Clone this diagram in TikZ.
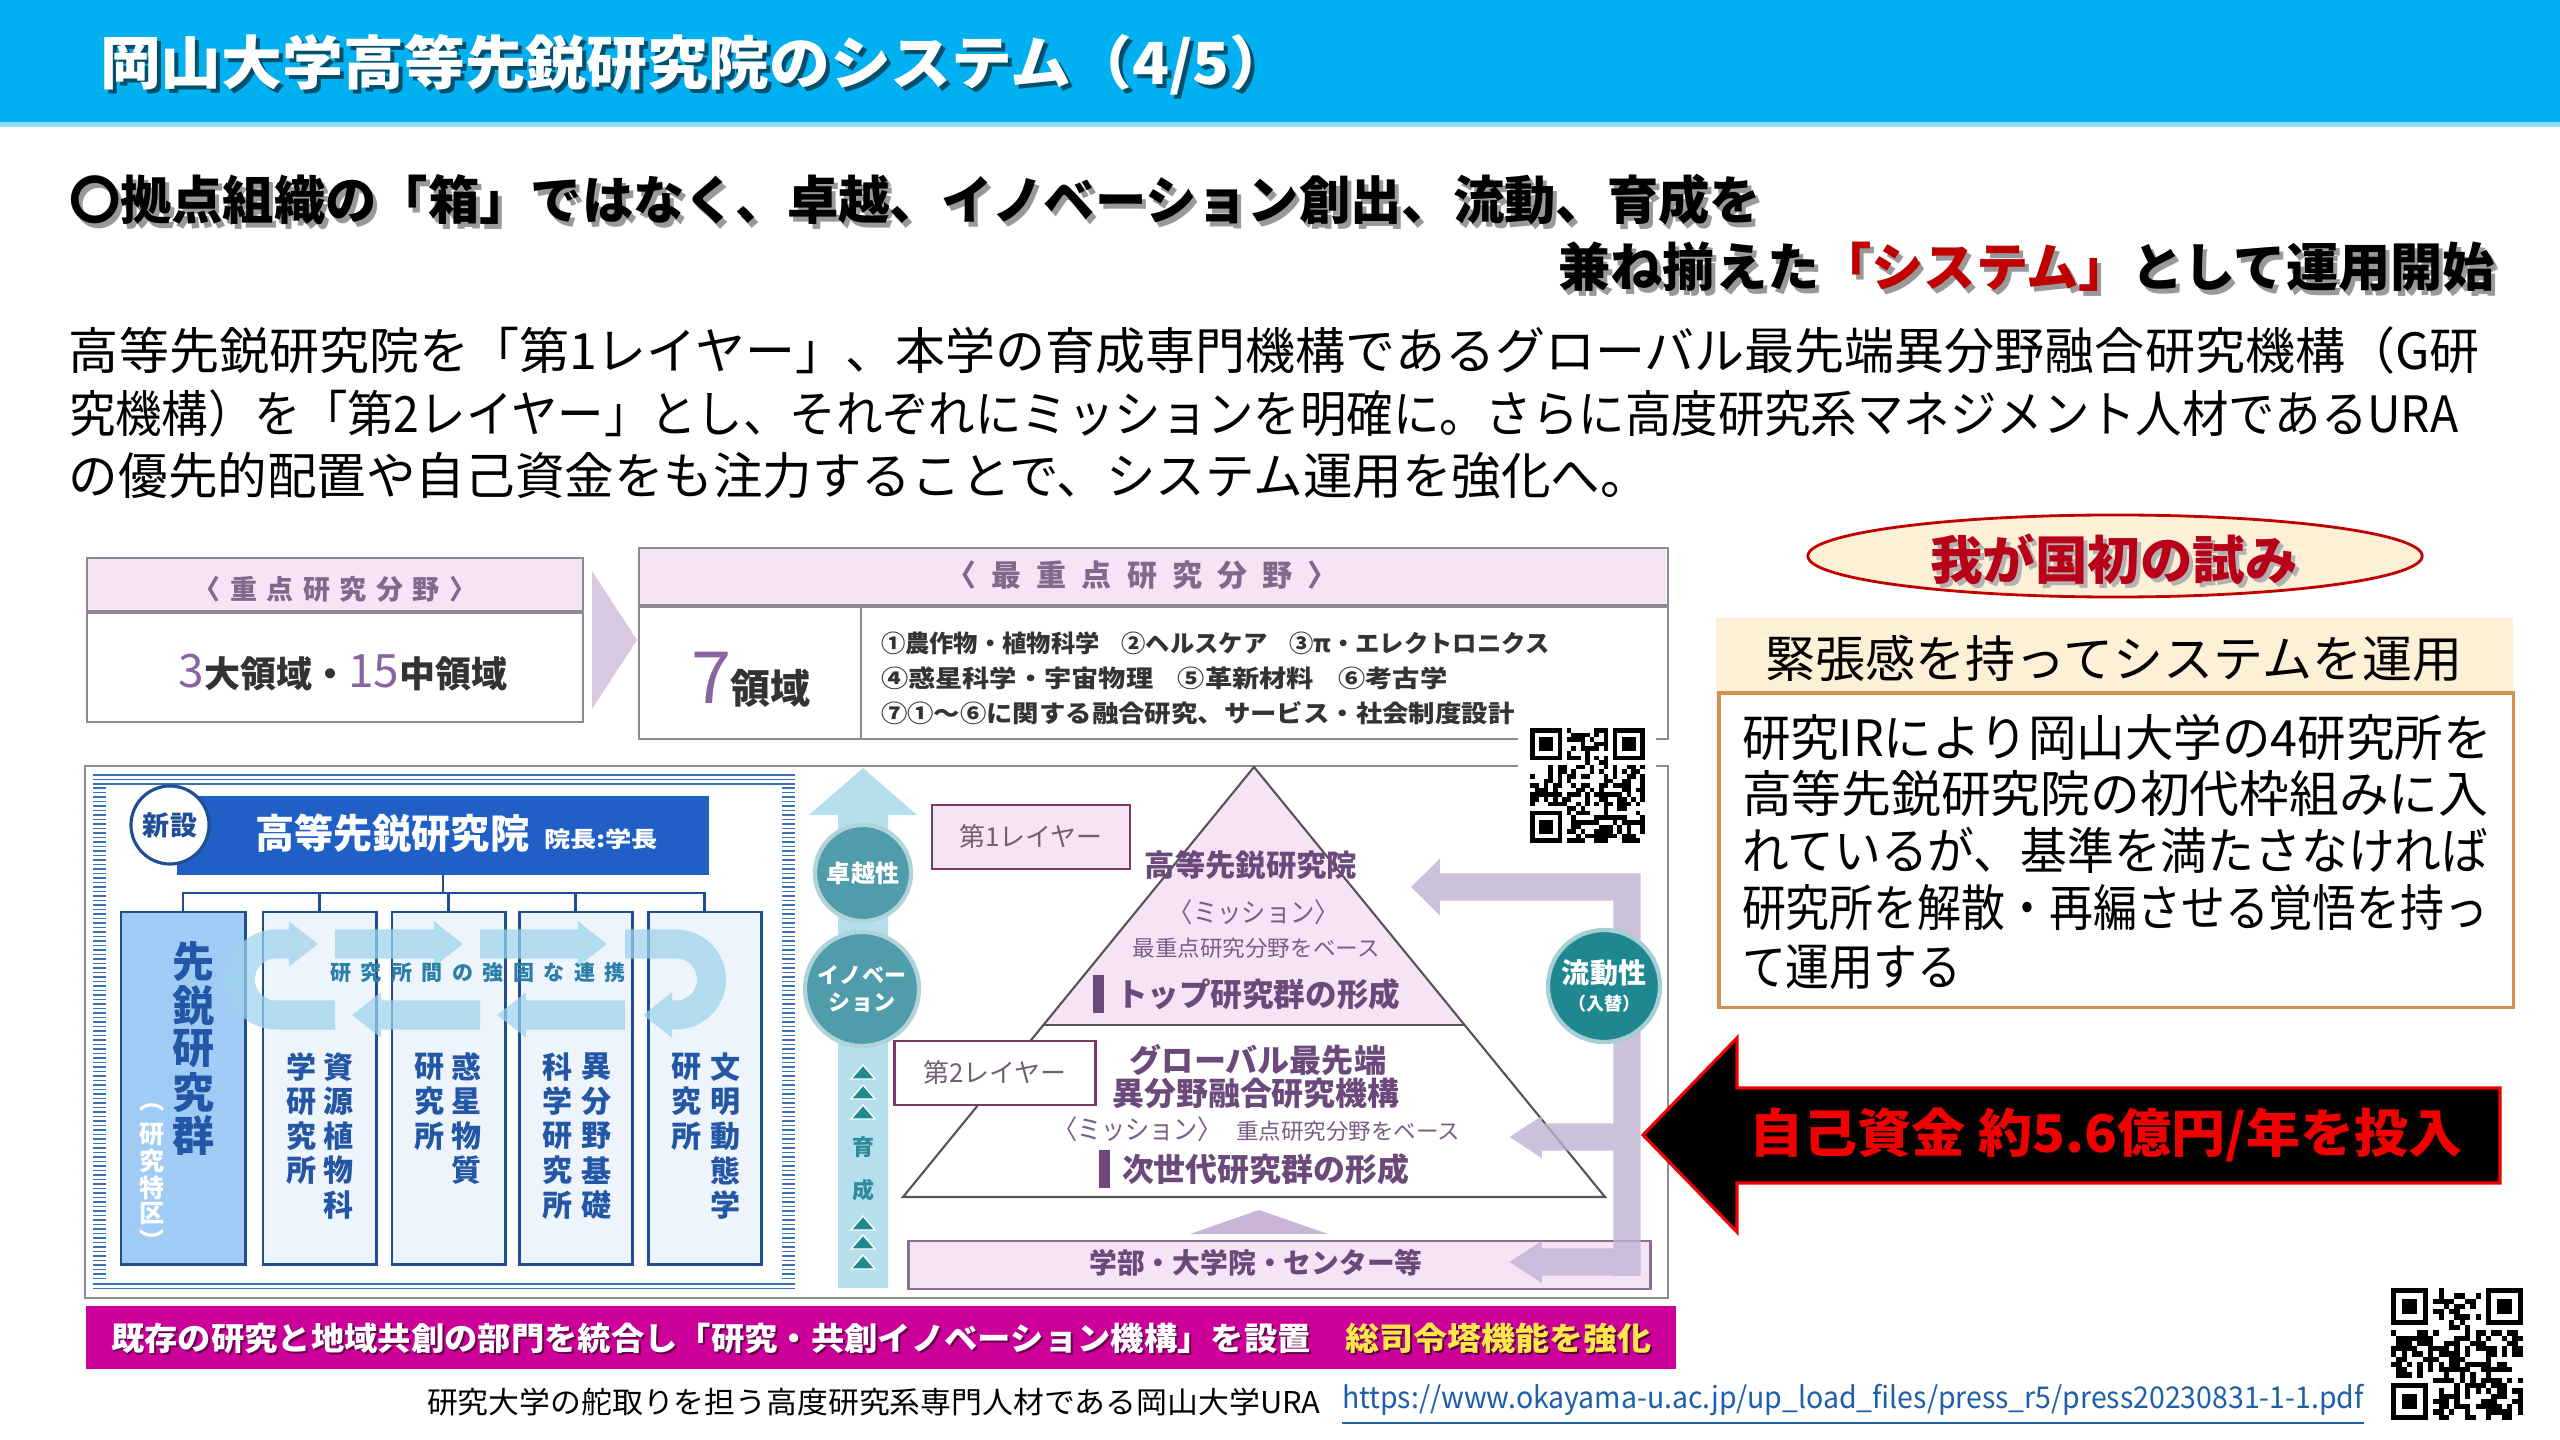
\documentclass[tikz,border=0pt]{standalone}
\usepackage{fontspec}
\usepackage{xfp}
\usepackage{graphicx}
\setmainfont{Noto Sans CJK JP}
\usetikzlibrary{arrows.meta,shapes.geometric,calc}

\definecolor{tcyan}{HTML}{00B0F0}
\definecolor{tcyanl}{HTML}{8FDDF7}
\definecolor{hdrblue}{HTML}{1F5FC6}
\definecolor{dblue}{HTML}{1F4E96}
\definecolor{tblue}{HTML}{2456A6}
\definecolor{c1fill}{HTML}{9FCBF5}
\definecolor{cfill}{HTML}{EEF4FB}
\definecolor{stripe}{HTML}{3A70B8}
\definecolor{pinkf}{HTML}{F6E4F6}
\definecolor{gborder}{HTML}{8E8A94}
\definecolor{ptext}{HTML}{6B4A7B}
\definecolor{ptextl}{HTML}{7A5C88}
\definecolor{ptextg}{HTML}{7E6A8C}
\definecolor{numc}{HTML}{8A64A0}
\definecolor{darktxt}{HTML}{333333}
\definecolor{chevc}{HTML}{D8C8E2}
\definecolor{lboxb}{HTML}{7B3A66}
\definecolor{layertxt}{HTML}{6E6070}
\definecolor{tealc}{HTML}{4F9CAA}
\definecolor{teald}{HTML}{1E8790}
\definecolor{tealtri}{HTML}{1F8A8C}
\definecolor{tealtxt}{HTML}{2E8B9A}
\definecolor{lbluearrow}{HTML}{B5DFEC}
\definecolor{loopblue}{HTML}{9CD2EC}
\definecolor{looptxt}{HTML}{2B7FA8}
\definecolor{lpurple}{HTML}{BFB2D3}
\definecolor{smalltri}{HTML}{C9B5D8}
\definecolor{pyrline}{HTML}{555555}
\definecolor{magbar}{HTML}{CC0099}
\definecolor{yel}{HTML}{FFE64D}
\definecolor{cream}{HTML}{FDF0D6}
\definecolor{orangeb}{HTML}{D4914B}
\definecolor{dred}{HTML}{B80018}
\definecolor{hred}{HTML}{C00000}
\definecolor{bred}{HTML}{F00000}
\definecolor{urlblue}{HTML}{1F5FA8}

\newcommand\pxs[1]{\fontsize{\fpeval{#1*0.2845}pt}{\fpeval{#1*0.2845*1.2}pt}\selectfont}
\newcommand\fitw[2]{\resizebox{#1}{\height}{#2}}
\newcommand\vcol[5]{%
  \foreach \ch [count=\k from 0] in {#4}{\node[tx] (#5\k) at (#1,#2+\k*#3) {\ch};}}
\newcommand\fakeqr[4]{%
  \pgfmathsetseed{#4}%
  \foreach \qi in {0,...,24}{%
    \foreach \qj in {0,...,24}{%
      \pgfmathtruncatemacro\qon{((\qi<8 && \qj<8) || (\qi>16 && \qj<8) || (\qi<8 && \qj>16)) ? 0 : (rnd<0.5 ? 1 : 0)}%
      \ifnum\qon=1 \fill (#1+\qi*#3,#2+\qj*#3) rectangle ++(#3,#3);\fi
    }}%
  \foreach \fx/\fy in {0/0,18/0,0/18}{%
    \fill (#1+\fx*#3,#2+\fy*#3) rectangle ++(7*#3,7*#3);
    \fill[white] (#1+\fx*#3+#3,#2+\fy*#3+#3) rectangle ++(5*#3,5*#3);
    \fill (#1+\fx*#3+2*#3,#2+\fy*#3+2*#3) rectangle ++(3*#3,3*#3);
  }}

\begin{document}
\begin{tikzpicture}[x=0.01cm,y=-0.01cm,
  tx/.style={inner sep=0pt,outer sep=0pt},
  tri/.style={-{Triangle[length=0pt 1.0,width=0pt 1.5]}},
  colbox/.style={tx,draw=dblue,line width=0.85pt,fill=cfill,minimum width=1.13cm,minimum height=3.52cm,anchor=north west},
  grayline/.style={gborder,line width=0.6pt}]

\fill[white] (0,0) rectangle (2560,1440);
\useasboundingbox (0,0) rectangle (2560,1440);

% ---------- title bar
\fill[tcyan] (0,0) rectangle (2560,122);
\fill[tcyanl] (0,122) rectangle (2560,127);
\node[tx,anchor=west,text=black!55!tcyan] (titlesh) at (104,69) {\pxs{58}\bfseries\fitw{11.9cm}{岡山大学高等先鋭研究院のシステム（4/5）}};
\node[tx,anchor=west,text=white] (title) at (100,65) {\pxs{58}\bfseries\fitw{11.9cm}{岡山大学高等先鋭研究院のシステム（4/5）}};

% ---------- heading
\node[tx,anchor=west,text=black!40] (h1sh) at (73,205) {\pxs{52}\bfseries\fitw{16.91cm}{〇拠点組織の「箱」ではなく、卓越、イノベーション創出、流動、育成を}};
\node[tx,anchor=west] (h1) at (69,200) {\pxs{52}\bfseries\fitw{16.91cm}{〇拠点組織の「箱」ではなく、卓越、イノベーション創出、流動、育成を}};
\node[tx,anchor=east,text=black!40] (h2sh) at (2499,272) {\pxs{52}\bfseries\fitw{9.36cm}{兼ね揃えた「システム」として運用開始}};
\node[tx,anchor=east] (h2) at (2495,267) {\pxs{52}\bfseries\fitw{9.36cm}{兼ね揃えた{\color{hred}「システム」}として運用開始}};

% ---------- body
\node[tx,anchor=west] (b1) at (69,350) {\pxs{50}\fitw{24.09cm}{高等先鋭研究院を「第1レイヤー」、本学の育成専門機構であるグローバル最先端異分野融合研究機構（G研}};
\node[tx,anchor=west] (b2) at (69,413) {\pxs{50}\fitw{23.88cm}{究機構）を「第2レイヤー」とし、それぞれにミッションを明確に。さらに高度研究系マネジメント人材であるURA}};
\node[tx,anchor=west] (b3) at (69,476) {\pxs{50}\fitw{15.80cm}{の優先的配置や自己資金をも注力することで、システム運用を強化へ。}};

% ---------- top-left box
\node[tx,draw=gborder,line width=0.6pt,fill=white,minimum width=4.96cm,minimum height=1.64cm,anchor=north west] (boxL) at (87,558) {};
\fill[pinkf] (88,559) rectangle (582,612);
\draw[gborder,line width=0.9pt] (87,612) -- (583,612);
\node[tx,text=ptextg] (boxLh) at (335,589) {\pxs{27}\bfseries\addfontfeature{LetterSpace=35}〈重点研究分野〉};
\node[tx] (boxLt) at (343,673) {\pxs{36}\bfseries\color{darktxt}{\pxs{46}\mdseries\color{numc}3}大領域・{\pxs{46}\mdseries\color{numc}15}中領域};

\fill[chevc] (592,571) -- (637,640) -- (592,709) -- cycle;

% ---------- top-right box
\node[tx,draw=gborder,line width=0.6pt,fill=white,minimum width=10.28cm,minimum height=1.91cm,anchor=north west] (boxR) at (639,548) {};
\fill[pinkf] (640,549) rectangle (1666,606);
\draw[gborder,line width=0.9pt] (639,606) -- (1667,606);
\draw[grayline] (861,606) -- (861,739);
\node[tx,text=ptextg] (boxRh) at (1142,575) {\pxs{30}\bfseries\addfontfeature{LetterSpace=50}〈最重点研究分野〉};
\node[tx] (seven) at (751,680) {{\pxs{72}\color{numc}7}{\pxs{40}\bfseries\color{darktxt}領域}};
\node[tx,anchor=west,text=darktxt] (it1) at (881,643) {\pxs{24}\bfseries\fitw{6.68cm}{①農作物・植物科学\hspace{0.9em}②ヘルスケア\hspace{0.9em}③π・エレクトロニクス}};
\node[tx,anchor=west,text=darktxt] (it2) at (881,678) {\pxs{24}\bfseries\fitw{5.66cm}{④惑星科学・宇宙物理\hspace{0.9em}⑤革新材料\hspace{0.9em}⑥考古学}};
\node[tx,anchor=west,text=darktxt] (it3) at (881,713) {\pxs{24}\bfseries\fitw{6.33cm}{⑦①～⑥に関する融合研究、サービス・社会制度設計}};

% ---------- big box
\node[tx,draw=gborder,line width=0.6pt,fill=white,minimum width=15.82cm,minimum height=5.32cm,anchor=north west] (bigbox) at (85,766) {};

% blue striped frame
\foreach \yy in {775,779.5,784} \draw[stripe,line width=0.55pt] (93,\yy) -- (795,\yy);
\foreach \yy in {1284,1288.5} \draw[stripe,line width=0.55pt] (93,\yy) -- (795,\yy);
\foreach \yy in {788,792.5,...,1282} {\draw[stripe,line width=0.55pt] (93,\yy) -- (106,\yy); \draw[stripe,line width=0.55pt] (782,\yy) -- (795,\yy);}
\fill[white,rounded corners=0.2cm] (106,787) rectangle (782,1281);

% header bar
\node[tx,fill=hdrblue,minimum width=5.32cm,minimum height=0.79cm,anchor=north west] (hdr) at (177,796) {};
\node[tx,anchor=west,text=white] (hdrt) at (255,833) {\pxs{40}\bfseries\fitw{2.74cm}{高等先鋭研究院}};
\node[tx,anchor=west,text=white] (hdrs) at (544,839) {\pxs{22}\bfseries\fitw{1.14cm}{院長:学長}};
\node[tx,circle,draw=dblue,line width=0.9pt,fill=white,minimum size=0.78cm] (shinsetsu) at (170,825) {\pxs{27}\bfseries\color{dblue}新設};

% columns
\node[colbox,fill=c1fill,minimum width=1.24cm] (c1) at (121,912) {};
\node[colbox] (c2) at (263,912) {};
\node[colbox] (c3) at (392,912) {};
\node[colbox] (c4) at (519,912) {};
\node[colbox] (c5) at (648,912) {};
\draw[dblue,line width=0.7pt] (c1.north) -- ++(0,-19) -| (c5.north);
\draw[dblue,line width=0.7pt] (hdr.south) -- ++(0,19);
\foreach \c in {c2,c3,c4} \draw[dblue,line width=0.7pt] (\c.north) -- ++(0,-19);

\begin{scope}[font=\pxs{42}\bfseries, text=tblue]
\vcol{194}{962}{43.5}{先,鋭,研,究,群}{va}
\end{scope}
\begin{scope}[font=\pxs{25}\bfseries, text=white]
\vcol{152}{1108}{26.5}{︵,研,究,特,区,︶}{vb}
\end{scope}
\begin{scope}[font=\pxs{30}\bfseries, text=tblue]
\vcol{302}{1067}{34.5}{学,研,究,所}{vc}
\vcol{339}{1067}{34.5}{資,源,植,物,科}{vd}
\vcol{430}{1067}{34.5}{研,究,所}{ve}
\vcol{467}{1067}{34.5}{惑,星,物,質}{vf}
\vcol{558}{1067}{34.5}{科,学,研,究,所}{vg}
\vcol{596}{1067}{34.5}{異,分,野,基,礎}{vh}
\vcol{687}{1067}{34.5}{研,究,所}{vi}
\vcol{725}{1067}{34.5}{文,明,動,態,学}{vj}
\end{scope}

% loop arrows
\begin{scope}[transparency group,opacity=0.72]
\begin{scope}[loopblue,line width=8.25pt]
\draw[tri] (335,1015) -- (276,1015) arc[start angle=90,end angle=270,radius=35.5] -- (318,944);
\draw[tri] (335,944) -- (463,944);
\draw[tri] (480,944) -- (607,944);
\draw[tri] (625,944) -- (676,944) arc[start angle=-90,end angle=90,radius=35.5] -- (643,1015);
\draw[tri] (625,1015) -- (497,1015);
\draw[tri] (480,1015) -- (352,1015);
\end{scope}
\end{scope}
\node[tx,text=looptxt] (loopt) at (478,973) {\pxs{21}\bfseries\addfontfeature{LetterSpace=45}研究所間の強固な連携};

% ---------- middle vertical arrow
\fill[lbluearrow] (838,1288) -- (838,815) -- (809,815) -- (863,768) -- (917,815) -- (888,815) -- (888,1288) -- cycle;
\node[tx,circle,fill=tealc,draw=tealc!45!white,line width=1.2pt,minimum size=0.96cm,text=white] (exc) at (863,873) {\pxs{24}\bfseries 卓越性};
\node[tx,circle,fill=tealc,draw=tealc!45!white,line width=1.2pt,minimum size=1.14cm,text=white,align=center,font=\pxs{22}\bfseries] (inno) at (862,989) {イノベー\\ション};
\foreach \yy in {1072,1092,1112,1223,1242,1262} \fill[tealtri,draw=white,line width=0.4pt] (851,\yy+7) -- (875,\yy+7) -- (863,\yy-7) -- cycle;
\node[tx,text=tealtxt] (iku) at (863,1147) {\pxs{22}\bfseries 育};
\node[tx,text=tealtxt] (sei) at (863,1190) {\pxs{22}\bfseries 成};

% ---------- pyramid
\coordinate (apex) at (1254,767);
\coordinate (bl) at (903,1197);
\coordinate (br) at (1605,1197);
\coordinate (ml) at (1043.4,1025);
\coordinate (mr) at (1464.6,1025);
\fill[pinkf] (apex) -- (ml) -- (mr) -- cycle;
\draw[pyrline,line width=0.6pt] (apex) -- (bl) -- (br) -- cycle;
\draw[pyrline,line width=0.6pt] (ml) -- (mr);

\node[tx,text=ptext] (p1) at (1251,865) {\pxs{30}\bfseries\fitw{2.12cm}{高等先鋭研究院}};
\node[tx,text=ptextl] (p2) at (1254,912) {\pxs{27}\fitw{1.70cm}{〈ミッション〉}};
\node[tx,text=ptextl] (p3) at (1256,948) {\pxs{22}\fitw{2.47cm}{最重点研究分野をベース}};
\fill[ptext] (1093,975) rectangle (1104,1013);
\node[tx,anchor=west,text=ptext] (p4) at (1116,994) {\pxs{32}\bfseries\fitw{2.84cm}{トップ研究群の形成}};
\node[tx,text=ptext] (p5) at (1258,1060) {\pxs{32}\bfseries\fitw{2.56cm}{グローバル最先端}};
\node[tx,text=ptext] (p6) at (1256,1093) {\pxs{32}\bfseries\fitw{2.87cm}{異分野融合研究機構}};
\node[tx,anchor=west,text=ptextl] (p7) at (1053,1129) {\pxs{27}\fitw{1.69cm}{〈ミッション〉}};
\node[tx,anchor=west,text=ptextl] (p8) at (1236,1131) {\pxs{22}\fitw{2.24cm}{重点研究分野をベース}};
\fill[ptext] (1099,1150) rectangle (1110,1188);
\node[tx,anchor=west,text=ptext] (p9) at (1122,1169) {\pxs{32}\bfseries\fitw{2.87cm}{次世代研究群の形成}};

\node[tx,draw=lboxb,line width=0.8pt,fill=pinkf,minimum width=1.98cm,minimum height=0.64cm,text=layertxt] (L1) at (1031,837) {\pxs{26}\fitw{1.43cm}{第1レイヤー}};
\node[tx,draw=lboxb,line width=0.8pt,fill=white,minimum width=2.01cm,minimum height=0.64cm,text=layertxt] (L2) at (995,1073) {\pxs{26}\fitw{1.43cm}{第2レイヤー}};

\fill[smalltri] (1190,1234) -- (1328,1234) -- (1259,1210) -- cycle;
\node[tx,draw=ptext!80,line width=0.8pt,fill=pinkf,minimum width=7.41cm,minimum height=0.48cm] (base) at (1279.5,1265) {};
\node[tx,text=ptext] (baset) at (1256,1263) {\pxs{28}\bfseries\fitw{3.33cm}{学部・大学院・センター等}};

% purple flow arrows
\begin{scope}[transparency group,opacity=0.8]
\draw[lpurple,line width=7.8pt,-{Triangle[length=0pt 1.05,width=0pt 2.0]}] (1627,1276) -- (1627,887) -- (1411,887);
\draw[lpurple,line width=7.8pt,-{Triangle[length=0pt 1.2,width=0pt 1.45]}] (1627,1137) -- (1509,1137);
\draw[lpurple,line width=7.8pt,-{Triangle[length=0pt 1.2,width=0pt 1.45]}] (1627,1262) -- (1509,1262);
\end{scope}
\node[tx,circle,fill=teald,draw=teald!40!white,line width=1.2pt,minimum size=1.12cm,text=white,align=center,font=\pxs{28}\bfseries] (flow) at (1604,986) {流動性\\[-2pt]{\pxs{18}（入替）}};

% QR codes
\fill[white] (1518,717) rectangle (1656,855);
\fakeqr{1530}{728}{4.6}{7}
\fakeqr{2391}{1288}{5.28}{11}

% ---------- right side
\node[tx,ellipse,draw=hred,line width=0.8pt,fill=cream,minimum width=6.14cm,minimum height=0.82cm] (first) at (2115,556) {};
\node[tx,text=black!30] (firstsh) at (2118,563) {\pxs{52}\bfseries\fitw{3.67cm}{我が国初の試み}};
\node[tx,text=dred] (firstt) at (2114,559) {\pxs{52}\bfseries\fitw{3.67cm}{我が国初の試み}};

\node[tx,fill=cream,minimum width=7.97cm,minimum height=0.75cm,anchor=north west] (tens) at (1716,618) {};
\node[tx] (tenst) at (2114,658) {\pxs{50}\fitw{6.96cm}{緊張感を持ってシステムを運用}};
\node[tx,draw=orangeb,line width=0.9pt,fill=white,minimum width=7.94cm,minimum height=3.14cm,anchor=north west] (tbox) at (1719,693) {};
\node[tx,anchor=west] (r1) at (1742,737) {\pxs{50}\fitw{7.49cm}{研究IRにより岡山大学の4研究所を}};
\node[tx,anchor=west] (r2) at (1742,793) {\pxs{50}\fitw{7.46cm}{高等先鋭研究院の初代枠組みに入}};
\node[tx,anchor=west] (r3) at (1742,850) {\pxs{50}\fitw{7.46cm}{れているが、基準を満たさなければ}};
\node[tx,anchor=west] (r4) at (1742,908) {\pxs{50}\fitw{7.46cm}{研究所を解散・再編させる覚悟を持っ}};
\node[tx,anchor=west] (r5) at (1742,967) {\pxs{50}\fitw{2.19cm}{て運用する}};

% red arrow
\draw[fill=black,draw=bred,line width=0.9pt,line join=miter] (1643,1135) -- (1737,1038) -- (1737,1088) -- (2500,1088) -- (2500,1183) -- (1737,1183) -- (1737,1232) -- cycle;
\node[tx,text=bred] (fund) at (2106,1135) {\pxs{52}\bfseries\fitw{7.13cm}{自己資金 約5.6億円/年を投入}};

% ---------- magenta bar
\node[tx,fill=magbar,minimum width=15.89cm,minimum height=0.63cm,anchor=north west] (mbar) at (86,1306) {};
\node[tx,anchor=west,text=black!50!magbar] (mbtsh) at (113,1340) {\pxs{32}\bfseries\fitw{11.99cm}{既存の研究と地域共創の部門を統合し「研究・共創イノベーション機構」を設置}};
\node[tx,anchor=west,text=white] (mbt) at (111,1338) {\pxs{32}\bfseries\fitw{11.99cm}{既存の研究と地域共創の部門を統合し「研究・共創イノベーション機構」を設置}};
\node[tx,anchor=west,text=black!60!magbar] (mbysh) at (1347,1340) {\pxs{32}\bfseries\fitw{3.06cm}{総司令塔機能を強化}};
\node[tx,anchor=west,text=yel] (mby) at (1345,1338) {\pxs{32}\bfseries\fitw{3.06cm}{総司令塔機能を強化}};

% ---------- footer
\node[tx,anchor=west] (foot) at (427,1402) {\pxs{30}\fitw{8.93cm}{研究大学の舵取りを担う高度研究系専門人材である岡山大学URA}};
\node[tx,anchor=west,text=urlblue] (url) at (1342,1400) {\pxs{30}\fitw{10.21cm}{https://www.okayama-u.ac.jp/up\_load\_files/press\_r5/press20230831-1-1.pdf}};
\draw[urlblue,line width=0.6pt] ([yshift=-2pt]url.south west) -- ([yshift=-2pt]url.south east);

\end{tikzpicture}
\end{document}
